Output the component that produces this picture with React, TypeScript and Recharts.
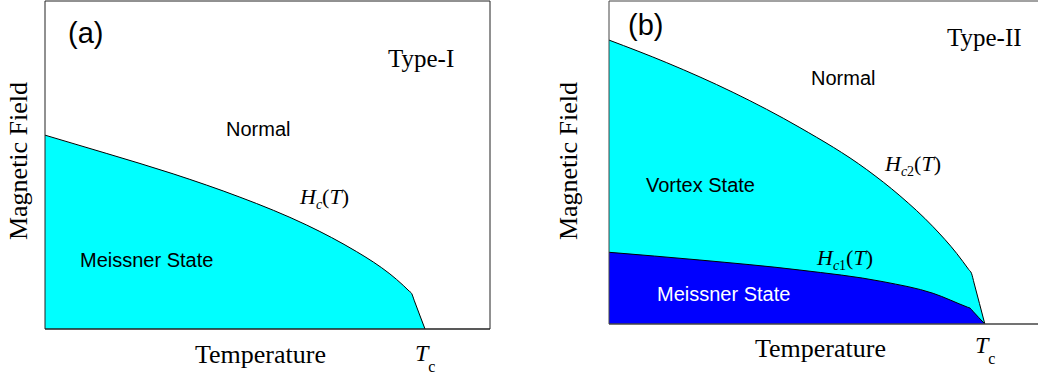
import React from 'react';
import { ComposedChart, Area, XAxis, YAxis, ReferenceLine } from 'recharts';

// normalized temperature (0..1 across the frame) and field (0..1 up the frame)
const hcTemp = [0, 0.139, 0.288, 0.438, 0.513, 0.588, 0.7, 0.738, 0.775, 0.805, 0.818, 0.824, 0.83, 0.854];
const hcField = [0.591, 0.535, 0.473, 0.402, 0.362, 0.317, 0.236, 0.204, 0.168, 0.133, 0.116, 0.108, 0.086, 0];

const hc2Temp = [0, 0.134, 0.288, 0.443, 0.598, 0.675, 0.752, 0.807, 0.835, 0.841, 0.847, 0.872];
const hc2Field = [0.879, 0.809, 0.717, 0.608, 0.478, 0.397, 0.301, 0.218, 0.168, 0.157, 0.127, 0];

const hc1Temp = [0, 0.211, 0.443, 0.636, 0.752, 0.832, 0.838, 0.844, 0.872];
const hc1Field = [0.222, 0.198, 0.167, 0.131, 0.095, 0.052, 0.049, 0.04, 0];

const toRows = (t: number[], h: number[]) => t.map((x, i) => ({ x, h: h[i] }));

const hcData = toRows(hcTemp, hcField);
const hc2Data = toRows(hc2Temp, hc2Field);
const hc1Data = toRows(hc1Temp, hc1Field);

const SERIF = '"Liberation Serif", "Times New Roman", serif';
const SANS = '"Liberation Sans", Arial, sans-serif';

const scales = () => [
  <XAxis key="x" type="number" dataKey="x" domain={[0, 1]} tick={false} tickLine={false} height={0}
    axisLine={false} allowDataOverflow />,
  <YAxis key="y" type="number" domain={[0, 1]} tick={false} tickLine={false} width={0}
    axisLine={false} allowDataOverflow />,
];

// plot frame, drawn over the filled regions
const borders = (color: string) => [
  <ReferenceLine key="l" x={0} stroke={color} strokeWidth={1} />,
  <ReferenceLine key="r" x={1} stroke={color} strokeWidth={1} />,
  <ReferenceLine key="t" y={1} stroke={color} strokeWidth={1} />,
  <ReferenceLine key="b" y={0} stroke={color} strokeWidth={1.3} />,
];

const HLabel = ({ x, y, sub }: { x: number; y: number; sub: string }) => (
  <text x={x} y={y} fontFamily={SERIF} fontSize={22}>
    <tspan fontStyle="italic">H</tspan>
    <tspan fontStyle="italic" fontSize={14} dy={5}>c</tspan>
    {sub ? <tspan fontSize={14}>{sub}</tspan> : null}
    <tspan dy={-5}>(</tspan>
    <tspan fontStyle="italic">T</tspan>
    <tspan>)</tspan>
  </text>
);

export default function App() {
  return (
    <div style={{ position: 'absolute', left: 0, top: 0, width: 1038, height: 377, overflow: 'hidden', background: '#fff' }}>
      <div style={{ position: 'absolute', left: 0, top: 0 }}>
        <ComposedChart width={495} height={377} margin={{ top: 1, left: 45, right: 5, bottom: 48 }}>
          {scales()}
          <Area data={hcData} dataKey="h" type="monotone" fill="#00ffff" fillOpacity={1} stroke="#000" strokeWidth={1}
            isAnimationActive={false} dot={false} activeDot={false} />
          {borders('#222')}
        </ComposedChart>
      </div>
      <div style={{ position: 'absolute', left: 560, top: 0 }}>
        <ComposedChart width={480} height={377} margin={{ top: 1, left: 49, right: 0, bottom: 53 }}>
          {scales()}
          <Area data={hc2Data} dataKey="h" type="monotone" fill="#00ffff" fillOpacity={1} stroke="#000" strokeWidth={1}
            isAnimationActive={false} dot={false} activeDot={false} />
          <Area data={hc1Data} dataKey="h" type="monotone" fill="#0000ff" fillOpacity={1} stroke="#000" strokeWidth={1}
            isAnimationActive={false} dot={false} activeDot={false} />
          {borders('#444')}
        </ComposedChart>
      </div>
      <svg width={1038} height={377} style={{ position: 'absolute', left: 0, top: 0, pointerEvents: 'none' }}>
        {/* panel (a) */}
        <text x={68} y={43} fontFamily={SANS} fontSize={29}>(a)</text>
        <text x={388} y={67} fontFamily={SERIF} fontSize={25}>Type-I</text>
        <text x={226} y={136} fontFamily={SANS} fontSize={20}>Normal</text>
        <text x={80} y={267} fontFamily={SANS} fontSize={20}>Meissner State</text>
        <HLabel x={300} y={204} sub="" />
        <text x={195} y={363} fontFamily={SERIF} fontSize={26}>Temperature</text>
        <text x={415} y={361} fontFamily={SERIF} fontSize={24}>
          <tspan fontStyle="italic">T</tspan>
          <tspan fontSize={16} dy={11}>c</tspan>
        </text>
        <text x={27} y={161} fontFamily={SERIF} fontSize={26} textAnchor="middle" transform="rotate(-90 27 161)">
          Magnetic Field
        </text>

        {/* panel (b) */}
        <text x={628} y={35} fontFamily={SANS} fontSize={29}>(b)</text>
        <text x={947} y={46} fontFamily={SERIF} fontSize={25}>Type-II</text>
        <text x={811} y={85} fontFamily={SANS} fontSize={20}>Normal</text>
        <text x={646} y={192} fontFamily={SANS} fontSize={20}>Vortex State</text>
        <text x={657} y={301} fontFamily={SANS} fontSize={20} fill="#fff">Meissner State</text>
        <HLabel x={885} y={171} sub="2" />
        <HLabel x={817} y={265} sub="1" />
        <text x={755} y={357} fontFamily={SERIF} fontSize={26}>Temperature</text>
        <text x={975} y={353} fontFamily={SERIF} fontSize={24}>
          <tspan fontStyle="italic">T</tspan>
          <tspan fontSize={16} dy={11}>c</tspan>
        </text>
        <text x={577} y={161} fontFamily={SERIF} fontSize={26} textAnchor="middle" transform="rotate(-90 577 161)">
          Magnetic Field
        </text>
      </svg>
    </div>
  );
}
